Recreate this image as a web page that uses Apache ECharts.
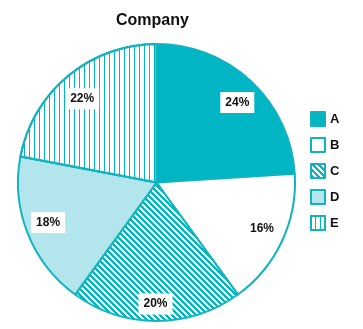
<!DOCTYPE html>
<html><head><meta charset="utf-8">
<script src="https://cdn.jsdelivr.net/npm/echarts@6/dist/echarts.min.js"></script>
<style>html,body{margin:0;padding:0;background:#fff}#c{width:363px;height:329px}</style>
</head><body><div id="c"></div>
<script>
const categories = ['A', 'B', 'C', 'D', 'E'];
const values = [24, 16, 20, 18, 22];
const title = 'Company';

const TEAL = '#00B6C4';
const EDGE = '#12B3C1';

function diagTile() {
  const n = 6, cv = document.createElement('canvas');
  cv.width = n; cv.height = n;
  const g = cv.getContext('2d');
  g.fillStyle = '#fff'; g.fillRect(0, 0, n, n);
  g.fillStyle = TEAL;
  for (let y = 0; y < n; y++) for (let x = 0; x < n; x++) {
    if (((x - y) % n + n) % n < 3) g.fillRect(x, y, 1, 1);
  }
  return { image: cv, repeat: 'repeat' };
}

const styles = [
  { color: TEAL },
  { color: '#ffffff' },
  { color: diagTile() },
  { color: '#B3E6EC' },
  { color: '#ffffff', decal: { symbol: 'rect', symbolSize: 1, color: TEAL, dashArrayX: [1, 0], dashArrayY: [1, 4], rotation: Math.PI / 2 } }
];
const labelOffsets = [[1, 5], [0, -3], [-1, 5], [0, -3], [0, 6]];

const chart = echarts.init(document.getElementById('c'), null, { renderer: 'canvas' });
const center = [156.5, 182.5];
const R = 138.5;
chart.setOption({
  animation: false,
  title: { text: title, left: 116, top: 13, padding: 0,
    textStyle: { fontFamily: 'Liberation Sans', fontWeight: 'bold', fontSize: 16, color: '#111' } },
  legend: {
    orient: 'vertical', left: 310, top: 111, padding: 0, icon: 'rect', itemWidth: 14, itemHeight: 14, itemGap: 10,
    data: categories,
    textStyle: { fontFamily: 'Liberation Sans', fontWeight: 'bold', fontSize: 13, color: '#111', padding: [0, 0, 0, 0] }
  },
  series: [
    {
      type: 'pie', center: center, radius: [0, R], startAngle: 90, clockwise: true,
      label: { show: false }, labelLine: { show: false },
      emphasis: { disabled: true },
      data: categories.map((c, i) => ({ name: c, value: values[i], itemStyle: Object.assign({ borderColor: EDGE, borderWidth: 2 }, styles[i]) }))
    },
    {
      type: 'pie', center: center, radius: [R * 0.64, R], startAngle: 90, clockwise: true,
      silent: true, legendHoverLink: false,
      itemStyle: { color: 'rgba(0,0,0,0)', borderWidth: 0 },
      label: { show: true, position: 'inside', formatter: p => p.value + '%',
        backgroundColor: '#fff', padding: [5, 5, 4, 5], color: '#111',
        fontFamily: 'Liberation Sans', fontWeight: 'bold', fontSize: 12 },
      labelLine: { show: false },
      emphasis: { disabled: true },
      data: categories.map((c, i) => ({ name: c + ' ', value: values[i], label: { offset: labelOffsets[i] } }))
    }
  ]
});
</script></body></html>
